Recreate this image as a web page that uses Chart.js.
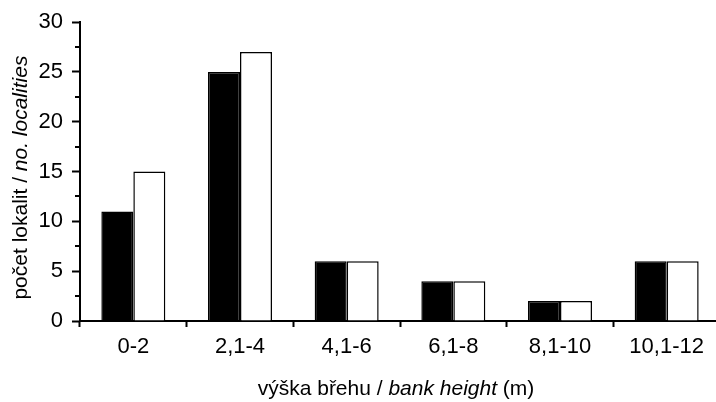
<!DOCTYPE html>
<html>
<head>
<meta charset="utf-8">
<script src="https://cdn.jsdelivr.net/npm/chart.js@4"></script>
<style>
  html, body { margin: 0; padding: 0; background: #fff; overflow: hidden; }
  #wrap { width: 720px; height: 402px; }
</style>
</head>
<body>
<div id="wrap"><canvas id="c" width="720" height="402"></canvas></div>
<script>
// Bank-height classes and locality counts
const categories = ['0-2', '2,1-4', '4,1-6', '6,1-8', '8,1-10', '10,1-12'];
const seriesBlack = [11, 25, 6, 4, 2, 6];
const seriesWhite = [15, 27, 6, 4, 2, 6];
const yTicks = [0, 5, 10, 15, 20, 25, 30];
const yMinorTicks = [2.5, 7.5, 12.5, 17.5, 22.5, 27.5];

const FONT = '"Liberation Sans", Arial, Helvetica, sans-serif';

// Short minor ticks on the value axis
const minorTicks = {
  id: 'minorTicks',
  afterDraw(chart) {
    const y = chart.scales.y;
    const ctx = chart.ctx;
    ctx.save();
    ctx.strokeStyle = '#000';
    ctx.lineWidth = 2;
    yMinorTicks.forEach(v => {
      const py = Math.round(y.getPixelForValue(v));
      ctx.beginPath();
      ctx.moveTo(y.right - 5, py);
      ctx.lineTo(y.right, py);
      ctx.stroke();
    });
    ctx.restore();
  }
};

// Axis titles with mixed upright / italic parts
function drawMixed(ctx, parts, x, y) {
  let total = 0;
  parts.forEach(p => { ctx.font = p.font; total += ctx.measureText(p.text).width; });
  let cx = x - total / 2;
  parts.forEach(p => {
    ctx.font = p.font;
    ctx.fillText(p.text, cx, y);
    cx += ctx.measureText(p.text).width;
  });
}
const axisTitles = {
  id: 'axisTitles',
  afterDraw(chart) {
    const ctx = chart.ctx;
    const area = chart.chartArea;
    const normal = '21px ' + FONT;
    const italic = 'italic 21px ' + FONT;
    ctx.save();
    ctx.fillStyle = '#000';
    ctx.textAlign = 'left';
    ctx.textBaseline = 'alphabetic';
    drawMixed(ctx, [
      { text: 'výška břehu / ', font: normal },
      { text: 'bank height', font: italic },
      { text: ' (m)', font: normal }
    ], (area.left + area.right) / 2 - 4, 395);
    ctx.translate(27, (area.top + area.bottom) / 2 + 6);
    ctx.rotate(-Math.PI / 2);
    drawMixed(ctx, [
      { text: 'počet lokalit / ', font: normal },
      { text: 'no. localities', font: italic }
    ], 0, 0);
    ctx.restore();
  }
};

new Chart(document.getElementById('c'), {
  type: 'bar',
  data: {
    labels: categories,
    datasets: [
      {
        data: seriesBlack,
        backgroundColor: '#000',
        borderColor: '#000',
        borderWidth: 1.5
      },
      {
        data: seriesWhite,
        backgroundColor: '#fff',
        borderColor: '#000',
        borderWidth: 1.5
      }
    ]
  },
  options: {
    responsive: false,
    animation: false,
    devicePixelRatio: 1,
    layout: { padding: { top: 21, right: 0, left: 0, bottom: 0 } },
    datasets: { bar: { barPercentage: 1, categoryPercentage: 0.6 } },
    plugins: {
      legend: { display: false },
      tooltip: { enabled: false }
    },
    scales: {
      x: {
        offset: true,
        afterFit(scale) { scale.height = 81; },
        border: { display: true, color: '#000', width: 2 },
        grid: {
          offset: true,
          drawOnChartArea: false,
          drawTicks: true,
          tickLength: 6,
          tickWidth: 2,
          tickColor: '#000'
        },
        ticks: {
          color: '#000',
          font: { family: FONT, size: 22 },
          padding: 7,
          maxRotation: 0
        }
      },
      y: {
        min: 0,
        max: 30,
        afterFit(scale) { scale.width = 80; },
        afterBuildTicks(scale) { scale.ticks = yTicks.map(v => ({ value: v })); },
        border: { display: true, color: '#000', width: 2 },
        grid: {
          drawOnChartArea: false,
          drawTicks: true,
          tickLength: 8,
          tickWidth: 2,
          tickColor: '#000'
        },
        ticks: {
          color: '#000',
          font: { family: FONT, size: 22 },
          padding: 9
        }
      }
    }
  },
  plugins: [minorTicks, axisTitles]
});
</script>
</body>
</html>
